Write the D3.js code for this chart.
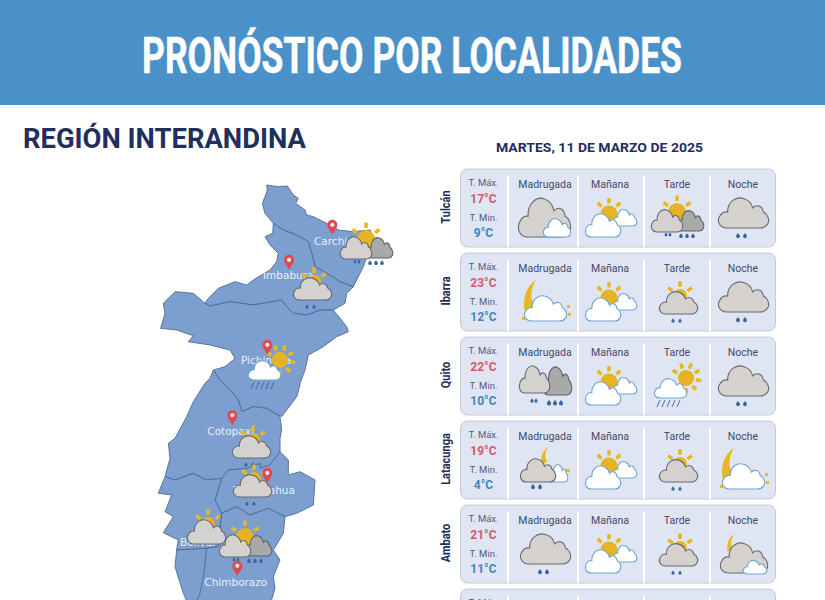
<!DOCTYPE html>
<html lang="es">
<head>
<meta charset="utf-8">
<title>Pronóstico por localidades</title>
<script src="https://cdn.jsdelivr.net/npm/d3@7"></script>
<style>
  html, body { margin: 0; padding: 0; background: #fff; overflow: hidden; }
  text { font-family: Roboto, sans-serif; }
</style>
</head>
<body>
<svg id="chart" width="825" height="600"></svg>
<script>
// Forecast table
var franjas    = ['Madrugada', 'Mañana', 'Tarde', 'Noche'];
var localidades = ['Tulcán', 'Ibarra', 'Quito', 'Latacunga', 'Ambato', 'Riobamba'];
var tempMax    = [17, 23, 22, 19, 21, null];
var tempMin    = [9, 12, 10, 4, 11, null];
var iconosTulcan    = ['grisBlanca', 'parcial', 'tormenta', 'gris'];
var iconosIbarra    = ['lunaBlanca', 'parcial', 'solGris', 'gris'];
var iconosQuito     = ['oscuroLluvia', 'parcial', 'solLluvia', 'gris'];
var iconosLatacunga = ['lunaGris', 'parcial', 'solGris', 'lunaBlanca'];
var iconosAmbato    = ['gris', 'parcial', 'solGris', 'lunaGrisBlanca'];
var iconosRiobamba  = [null, null, null, null];
var iconos = [iconosTulcan, iconosIbarra, iconosQuito, iconosLatacunga, iconosAmbato, iconosRiobamba];

// Province outlines, in traced map units
var carchi = [[350,45],[385,50],[412,48],[430,75],[445,85],[437,100],[465,120],[470,135],[490,140],[530,160],[565,180],[610,185],[660,180],[680,225],[650,260],[640,290],[625,320],[610,350],[570,335],[530,310],[495,290],[488,260],[475,215],[440,195],[400,180],[370,160],[345,130],[337,100],[345,80],[352,60]];
var imbabura = [[370,160],[400,180],[440,195],[475,215],[488,260],[495,290],[530,310],[570,335],[610,350],[590,370],[585,400],[550,420],[510,420],[470,435],[430,430],[405,405],[395,390],[310,405],[240,395],[180,408],[165,400],[175,385],[205,355],[255,335],[290,345],[310,330],[360,300],[380,275],[385,250],[360,225],[345,200],[368,190]];
var pichincha = [[165,400],[180,408],[240,395],[310,405],[395,390],[405,405],[430,430],[470,435],[510,420],[550,420],[590,470],[595,485],[560,500],[520,530],[475,555],[465,600],[450,640],[450,645],[440,680],[395,740],[350,715],[310,710],[275,725],[265,690],[245,665],[210,630],[190,600],[225,590],[255,565],[240,540],[180,525],[115,515],[130,497],[80,480],[32,475],[45,430],[40,400],[75,365],[130,370]];
var cotopaxi = [[190,600],[210,630],[245,665],[265,690],[275,725],[310,710],[350,715],[390,740],[395,780],[390,805],[390,845],[360,885],[330,895],[330,880],[290,895],[235,900],[215,925],[170,930],[130,910],[75,930],[45,920],[60,865],[55,820],[75,805],[110,740],[130,695],[165,640],[180,625]];
var tungurahua = [[215,925],[235,900],[290,895],[330,880],[330,895],[360,885],[390,845],[415,870],[415,915],[450,905],[495,930],[490,1005],[440,1030],[405,1040],[355,1015],[300,1035],[260,1010],[215,1030],[195,990]];
var bolivar = [[45,920],[75,930],[130,910],[170,930],[215,925],[195,990],[215,1030],[205,1130],[170,1135],[80,1140],[85,1110],[40,1088],[70,1040],[45,1025],[65,975],[25,970]];
var chimborazo = [[215,1030],[260,1010],[300,1035],[355,1015],[405,1040],[400,1090],[370,1140],[390,1170],[370,1220],[375,1255],[350,1340],[130,1340],[100,1270],[75,1190],[80,1140],[170,1135],[205,1130]];
var limiteSur = [[170,1135],[160,1220],[150,1270],[130,1320]];
var provincias = [carchi, imbabura, pichincha, cotopaxi, tungurahua, bolivar, chimborazo];

// Map labels, pins and weather, in the same map units
var provinciaNombres = ['Carchi', 'Imbabura', 'Pichincha', 'Cotopaxi', 'Tungurahua', 'Bolívar', 'Chimborazo'];
var provinciaX = [492, 339, 273, 172, 249, 90, 163];
var provinciaY = [224, 327, 583, 796, 973, 1128, 1247];
var provinciaIconos = ['tormenta', 'solGris', 'solLluvia', 'solGris', 'solGris', 'solGrisSeco', 'tormenta'];
var iconoX = [648, 483, 363, 300, 303, 165, 285];
var iconoY = [216, 345, 585, 819, 936, 1071, 1110];
var pinX = [547, 417, 352, 247, 352, null, 262];
var pinY = [170, 275, 530, 742, 915, null, 1193];

var svg = d3.select('#chart');
var W = 825, H = 600;

var azul = '#4a91c9', marino = '#222e5c';

// Map scales
var mapX = d3.scaleLinear().domain([0, 270]).range([150, 240]);
var mapY = d3.scaleLinear().domain([0, 1290]).range([170, 600]);

// Cloud outline in a 100x60 box
var cloudPath = 'M18,60 C4,60 -3,48 3,38 C7,30 13,28 19,29 C18,10 35,-2 50,3 C60,6 66,13 68,21 C75,14 87,16 89,29 C98,33 103,47 96,54 C92,60 86,60 82,60 Z';
var cloudStyles = {
    gris:   { fill: '#d5d1ce', stroke: '#666b72' },
    oscuro: { fill: '#a9a9a9', stroke: '#5d6268' },
    blanca: { fill: '#ffffff', stroke: '#6fa6cf' }
};

function cloud(g, x, y, w, h, kind){
    g.append('path')
        .attr('d', cloudPath)
        .attr('transform', 'translate(' + x + ',' + y + ') scale(' + (w / 100) + ',' + (h / 60) + ')')
        .attr('vector-effect', 'non-scaling-stroke')
        .attr('fill', cloudStyles[kind].fill)
        .attr('stroke', cloudStyles[kind].stroke)
        .attr('stroke-width', 1.1);
}

function sun(g, x, y, r, angles){
    angles.forEach(function(a){
        g.append('rect')
            .attr('x', r + 2).attr('y', -1.8)
            .attr('width', 5.5).attr('height', 3.6)
            .attr('rx', 0.8)
            .attr('fill', '#e6b822')
            .attr('transform', 'translate(' + x + ',' + y + ') rotate(' + a + ')');
    });
    g.append('circle').attr('cx', x).attr('cy', y).attr('r', r).attr('fill', '#e6b422');
}

function drops(g, xs, y, size){
    xs.forEach(function(x){
        g.append('path')
            .attr('d', 'M0,-1.6 C0.9,-0.4 1.6,0.3 1.6,1.1 A1.6,1.6 0 0 1 -1.6,1.1 C-1.6,0.3 -0.9,-0.4 0,-1.6 Z')
            .attr('transform', 'translate(' + x + ',' + y + ') scale(' + size + ')')
            .attr('fill', '#3566a0');
    });
}

function moon(g, x, y, s){
    g.append('path')
        .attr('d', 'M7,-16 C-3,-10 -7,4 -4,16 L6,10 C1,4 1,-6 7,-16 Z')
        .attr('transform', 'translate(' + x + ',' + y + ') scale(' + s + ')')
        .attr('fill', '#e6b822');
}

// One function per weather icon, centred on the column
var iconFns = {
    gris: function(g){
        cloud(g, -25, -18, 51, 31, 'gris');
        drops(g, [-5, 2], 20, 1.2);
    },
    grisBlanca: function(g){
        cloud(g, -27, -18, 53, 40, 'gris');
        cloud(g, -2, 3, 28, 19, 'blanca');
    },
    parcial: function(g){
        sun(g, -1, -1, 8.5, [-135, -90, -45]);
        cloud(g, 3, -6, 24, 17, 'blanca');
        cloud(g, -25, -2, 36, 24, 'blanca');
    },
    tormenta: function(g){
        sun(g, 0, -3, 9, [-145, -90, -35]);
        cloud(g, 0, -5, 27, 21, 'oscuro');
        cloud(g, -26, -6, 32, 23, 'gris');
        drops(g, [-11, -7], 19, 0.9);
        drops(g, [4, 10, 16], 20, 1.15);
    },
    solGris: function(g){
        sun(g, 3, -3, 7, [-145, -90, -35]);
        cloud(g, -18, -8, 39, 23, 'gris');
        drops(g, [-4, 3], 21, 1);
    },
    solGrisSeco: function(g){
        sun(g, 3, -3, 7, [-145, -90, -35]);
        cloud(g, -18, -8, 39, 25, 'gris');
    },
    lunaBlanca: function(g){
        moon(g, -16, -3, 1);
        g.append('rect').attr('x', 22).attr('y', 6).attr('width', 3).attr('height', 3).attr('fill', '#e6b822');
        g.append('rect').attr('x', 23).attr('y', 14).attr('width', 3).attr('height', 3).attr('fill', '#e6b822');
        g.append('rect').attr('x', -23).attr('y', 18).attr('width', 3).attr('height', 3).attr('fill', '#e6b822');
        cloud(g, -21, -4, 43, 26, 'blanca');
    },
    oscuroLluvia: function(g){
        cloud(g, -2, -17, 29, 29, 'oscuro');
        cloud(g, -26, -18, 31, 28, 'gris');
        drops(g, [-13, -9], 17, 1);
        drops(g, [4, 10, 16], 19, 1.3);
    },
    solLluvia: function(g){
        sun(g, 9, -5, 8, [-150, -110, -70, -30, 10, 50, 90]);
        cloud(g, -23, -5, 33, 20, 'blanca');
        [-20, -15, -10, -5, 0].forEach(function(x){
            g.append('line')
                .attr('x1', x + 3).attr('y1', 17)
                .attr('x2', x).attr('y2', 24)
                .attr('stroke', '#3566a0').attr('stroke-width', 0.9);
        });
    },
    lunaGris: function(g){
        moon(g, -1, -11, 0.55);
        cloud(g, 5, -3, 18, 18, 'blanca');
        g.append('rect').attr('x', 21).attr('y', 2).attr('width', 4).attr('height', 3).attr('fill', '#e6b822');
        cloud(g, -25, -9, 36, 24, 'gris');
        drops(g, [-12, -5], 19, 1.2);
    },
    lunaGrisBlanca: function(g){
        moon(g, -13, -8, 0.55);
        cloud(g, -23, -9, 48, 31, 'gris');
        cloud(g, 0, 9, 24, 14, 'blanca');
    }
};

function drawIcon(parent, name, x, y){
    var g = parent.append('g').attr('transform', 'translate(' + x + ',' + y + ')');
    iconFns[name](g);
}

// Squeeze a heading to the width it has in the original artwork
function fitWidth(sel, x, y, width){
    var natural = sel.node().getComputedTextLength();
    sel.attr('transform', 'translate(' + x + ',' + y + ') scale(' + (width / natural) + ',1)');
}

// Header
svg.append('rect').attr('width', W).attr('height', 105).attr('fill', azul);
svg.append('text')
    .attr('font-size', 50).attr('font-weight', 700).attr('fill', '#fff')
    .attr('stroke', '#fff').attr('stroke-width', 0.5)
    .text('PRONÓSTICO POR LOCALIDADES')
    .call(fitWidth, 142, 73, 540);
svg.append('text')
    .attr('font-size', 27).attr('font-weight', 700).attr('fill', marino)
    .text('REGIÓN INTERANDINA')
    .call(fitWidth, 23, 148, 283);
svg.append('text')
    .attr('font-size', 13).attr('font-weight', 700).attr('fill', marino)
    .text('MARTES, 11 DE MARZO DE 2025')
    .call(fitWidth, 496, 152, 207);

// Map
var shape = d3.line().x(function(d){ return mapX(d[0]); }).y(function(d){ return mapY(d[1]); });
var mapa = svg.append('g');
mapa.selectAll('path.provincia')
    .data(provincias)
    .enter()
    .append('path')
    .attr('class', 'provincia')
    .attr('d', function(d){ return shape(d) + 'Z'; })
    .attr('fill', '#7c9fd0')
    .attr('stroke', '#4c6b93')
    .attr('stroke-width', 0.9)
    .attr('stroke-linejoin', 'round');
mapa.append('path')
    .attr('d', shape(limiteSur))
    .attr('fill', 'none')
    .attr('stroke', '#4c6b93')
    .attr('stroke-width', 0.9);

mapa.selectAll('text.provincia')
    .data(provinciaNombres)
    .enter()
    .append('text')
    .attr('class', 'provincia')
    .attr('x', function(d, i){ return mapX(provinciaX[i]); })
    .attr('y', function(d, i){ return mapY(provinciaY[i]); })
    .style('font-family', '"DejaVu Sans", sans-serif')
    .attr('font-size', 10.5)
    .attr('fill', '#e9eef8')
    .text(function(d){ return d; });

provinciaIconos.forEach(function(name, i){
    drawIcon(mapa, name, mapX(iconoX[i]), mapY(iconoY[i]));
});

// Location pins sit above the weather icons
pinX.forEach(function(px, i){
    if(px === null) return;
    var pin = mapa.append('g').attr('transform', 'translate(' + mapX(px) + ',' + mapY(pinY[i]) + ')');
    pin.append('path')
        .attr('d', 'M0,8 C-2,4 -5,1.5 -5,-2 A5,5 0 0 1 5,-2 C5,1.5 2,4 0,8 Z')
        .attr('fill', '#e04a4f');
    pin.append('circle').attr('cx', 0).attr('cy', -2).attr('r', 2).attr('fill', '#fff');
});

// Forecast cards
var cardTop = d3.scaleLinear().domain([0, 1]).range([169, 253]);
var colX = d3.scaleOrdinal().domain(franjas).range([545, 610, 677, 743]);
var dividers = [508, 578, 644, 710];

var cards = svg.selectAll('g.card')
    .data(localidades)
    .enter()
    .append('g')
    .attr('class', 'card')
    .attr('transform', function(d, i){ return 'translate(0,' + cardTop(i) + ')'; });

cards.append('rect')
    .attr('x', 460.5).attr('y', 0)
    .attr('width', 315).attr('height', 78)
    .attr('rx', 7)
    .attr('fill', '#dfe5f3')
    .attr('stroke', '#c3cad8');

cards.append('text')
    .attr('transform', 'translate(449.5,38) rotate(-90) scale(0.88,1)')
    .attr('text-anchor', 'middle')
    .attr('font-size', 12.5).attr('font-weight', 700).attr('fill', marino)
    .text(function(d){ return d; });

dividers.forEach(function(x){
    cards.append('rect')
        .attr('x', x - 1).attr('y', 7)
        .attr('width', 2).attr('height', 71)
        .attr('fill', '#fff');
});

cards.append('text')
    .attr('x', 483.5).attr('y', 17)
    .attr('text-anchor', 'middle')
    .attr('font-size', 9.5).attr('fill', '#55607a')
    .text('T. Máx.');
cards.append('text')
    .attr('x', 483.5).attr('y', 33.5)
    .attr('text-anchor', 'middle')
    .attr('font-size', 12).attr('font-weight', 700).attr('fill', '#d9566a')
    .text(function(d, i){ return tempMax[i] === null ? '' : tempMax[i] + '°C'; });
cards.append('text')
    .attr('x', 483.5).attr('y', 51.5)
    .attr('text-anchor', 'middle')
    .attr('font-size', 9.5).attr('fill', '#55607a')
    .text('T. Min.');
cards.append('text')
    .attr('x', 483.5).attr('y', 67.5)
    .attr('text-anchor', 'middle')
    .attr('font-size', 12).attr('font-weight', 700).attr('fill', '#3f86c0')
    .text(function(d, i){ return tempMin[i] === null ? '' : tempMin[i] + '°C'; });

franjas.forEach(function(franja, f){
    cards.append('text')
        .attr('x', colX(franja)).attr('y', 18.5)
        .attr('text-anchor', 'middle')
        .attr('font-size', 10.5).attr('fill', '#3f4b68')
        .text(franja);
    cards.each(function(d, i){
        if(iconos[i][f])
            drawIcon(d3.select(this), iconos[i][f], colX(franja), 46);
    });
});
</script>
</body>
</html>
